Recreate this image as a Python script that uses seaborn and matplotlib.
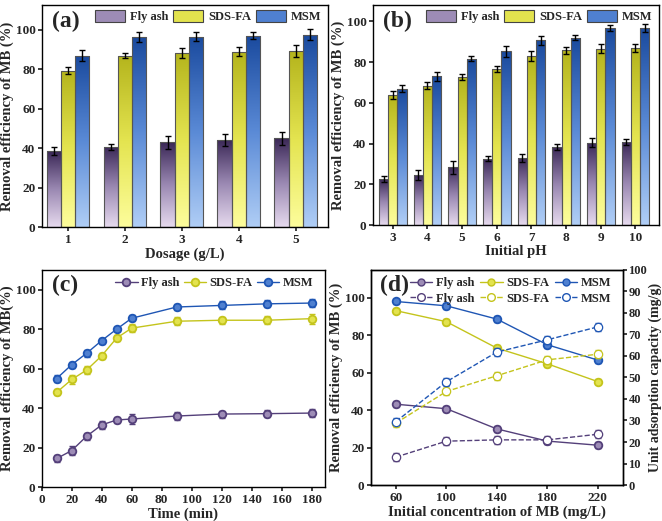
import numpy as np
import pandas as pd
import matplotlib
matplotlib.use("Agg")
import matplotlib.pyplot as plt
import seaborn as sns
from matplotlib.colors import LinearSegmentedColormap
from matplotlib.patches import Patch
from matplotlib.lines import Line2D

# ---------------- data ----------------
series = ["Fly ash", "SDS-FA", "MSM"]

dosage = [1, 2, 3, 4, 5]
a_fly = [38.5, 40.8, 43.0, 44.3, 45.0]
a_sds = [79.2, 87.0, 88.2, 89.0, 89.2]
a_msm = [87.0, 96.2, 96.5, 97.0, 97.5]
a_fly_err = [2.0, 1.5, 3.3, 3.0, 3.3]
a_sds_err = [1.8, 1.2, 2.5, 2.2, 3.0]
a_msm_err = [2.8, 2.5, 2.3, 1.8, 2.8]

ph = [3, 4, 5, 6, 7, 8, 9, 10]
b_fly = [22.5, 24.5, 28.5, 32.5, 33.0, 38.5, 40.5, 41.0]
b_sds = [64.0, 68.5, 72.8, 76.5, 83.2, 85.8, 86.6, 86.8]
b_msm = [67.0, 73.0, 81.8, 85.3, 90.7, 92.0, 96.7, 97.0]
b_fly_err = [1.5, 2.5, 3.2, 1.2, 2.0, 1.5, 2.2, 1.5]
b_sds_err = [2.0, 1.8, 1.6, 1.5, 2.5, 1.6, 2.2, 2.0]
b_msm_err = [1.8, 2.0, 1.2, 2.5, 2.0, 1.3, 1.5, 2.0]

time = [10, 20, 30, 40, 50, 60, 90, 120, 150, 180]
c_fly = [14.5, 18.5, 25.8, 31.5, 34.0, 34.5, 36.0, 37.0, 37.2, 37.5]
c_sds = [48.0, 54.5, 59.3, 66.5, 75.5, 80.5, 84.0, 84.5, 84.5, 85.3]
c_msm = [55.0, 62.0, 67.8, 74.2, 80.0, 85.5, 91.2, 92.0, 92.8, 93.2]
c_fly_err = [2.0, 2.2, 1.8, 2.0, 1.5, 2.5, 2.2, 1.8, 1.8, 2.0]
c_sds_err = [1.5, 2.5, 2.0, 1.5, 1.5, 2.2, 2.0, 1.8, 2.0, 2.5]
c_msm_err = [2.0, 1.5, 1.8, 1.5, 1.2, 1.5, 1.5, 2.0, 1.8, 2.0]

conc = [60, 100, 140, 180, 220]
d_fly = [43.2, 40.8, 30.0, 23.5, 21.3]
d_sds = [93.2, 87.3, 73.2, 64.8, 55.3]
d_msm = [98.1, 95.8, 88.7, 75.0, 66.8]
d_fly_q = [13.0, 20.4, 21.0, 21.0, 23.6]
d_sds_q = [28.8, 43.5, 50.8, 58.2, 60.8]
d_msm_q = [29.5, 48.0, 61.8, 67.5, 73.5]

# ---------------- style ----------------
sns.set_theme(style="ticks")
plt.rcParams["font.family"] = ["Liberation Serif", "DejaVu Serif"]
plt.rcParams["font.weight"] = "bold"
plt.rcParams["axes.labelweight"] = "bold"
plt.rcParams["axes.linewidth"] = 1.0
plt.rcParams["xtick.direction"] = "out"
plt.rcParams["ytick.direction"] = "out"
plt.rcParams["xtick.major.size"] = 3
plt.rcParams["ytick.major.size"] = 3
plt.rcParams["xtick.major.pad"] = 2
plt.rcParams["ytick.major.pad"] = 1.5

line_cols = {"Fly ash": "#54407a", "SDS-FA": "#c4c41c", "MSM": "#1f56b4"}
mid_cols = {"Fly ash": "#9d8cb6", "SDS-FA": "#e3e34e", "MSM": "#4f80d0"}
cmaps = {
    "Fly ash": LinearSegmentedColormap.from_list("fa", ["#e6daee", "#9a88b2", "#3a2756"]),
    "SDS-FA": LinearSegmentedColormap.from_list("sd", ["#fdfd9c", "#e4e450", "#b4b41c"]),
    "MSM": LinearSegmentedColormap.from_list("ms", ["#b0cef6", "#5a8ad6", "#1a4a9e"]),
}

fig = plt.figure(figsize=(6.62, 5.21), dpi=100)
ax_a = fig.add_axes([0.063, 0.564, 0.432, 0.426])
ax_b = fig.add_axes([0.563, 0.568, 0.432, 0.422])
ax_c = fig.add_axes([0.063, 0.065, 0.428, 0.417])
ax_d = fig.add_axes([0.560, 0.069, 0.381, 0.413])

FS_T = 9.5
FS_L = 10.5
FS_LEG = 9
FS_TAG = 17


def style_ax(ax, fs=FS_T):
    for lab in ax.get_xticklabels() + ax.get_yticklabels():
        lab.set_fontweight("bold")
        lab.set_fontsize(fs)
    for s in ax.spines.values():
        s.set_visible(True)
        s.set_color("black")


def bar_panel(ax, cats, vals, errs, width, xlabel, tag, xlim, ylim):
    df = pd.DataFrame({
        "cat": np.tile([str(c) for c in cats], 3),
        "series": np.repeat(series, len(cats)),
        "val": np.concatenate(vals),
    })
    sns.barplot(data=df, x="cat", y="val", hue="series", hue_order=series,
                ax=ax, width=width, errorbar=None, gap=0.0,
                edgecolor="#555555", linewidth=0.8, legend=False)
    grad = np.linspace(0, 1, 256).reshape(-1, 1)
    for s, cont, err in zip(series, ax.containers, errs):
        for bar, e in zip(cont, err):
            x0, y0 = bar.get_x(), bar.get_y()
            w, h = bar.get_width(), bar.get_height()
            im = ax.imshow(grad, extent=(x0, x0 + w, y0, y0 + h), origin="lower",
                           cmap=cmaps[s], aspect="auto", zorder=bar.get_zorder() - 0.1,
                           interpolation="bilinear")
            im.set_clip_path(bar)
            bar.set_facecolor("none")
            ax.errorbar(x0 + w / 2, y0 + h, yerr=e, fmt="none", ecolor="black",
                        elinewidth=1.0, capsize=2.5, capthick=1.0, zorder=5)
    ax.set_xlim(*xlim)
    ax.set_ylim(*ylim)
    ax.set_aspect("auto")
    ax.set_yticks([0, 20, 40, 60, 80, 100])
    ax.set_xlabel(xlabel, fontsize=FS_L, fontweight="bold", labelpad=1)
    ax.set_ylabel("Removal efficiency of MB (%)", fontsize=FS_L, fontweight="bold", labelpad=1)
    handles = [Patch(facecolor=mid_cols[s], edgecolor="#444444", linewidth=0.8) for s in series]
    ax.legend(handles, series, loc="upper right", ncol=3, frameon=False,
              prop={"weight": "bold", "size": FS_LEG}, handlelength=2.4, handleheight=1.0,
              columnspacing=0.4, handletextpad=0.4, borderaxespad=0.1,
              bbox_to_anchor=(1.0, 1.005))
    ax.text(0.035, 0.975, tag, transform=ax.transAxes, fontsize=FS_TAG, fontweight="bold",
            va="top", ha="left")
    style_ax(ax)


bar_panel(ax_a, dosage, [a_fly, a_sds, a_msm], [a_fly_err, a_sds_err, a_msm_err],
          0.75, "Dosage (g/L)", "(a)", (-0.46, 4.56), (0, 112.5))
bar_panel(ax_b, ph, [b_fly, b_sds, b_msm], [b_fly_err, b_sds_err, b_msm_err],
          0.8, "Initial pH", "(b)", (-0.58, 7.67), (0, 108))

# ---------------- (c) ----------------
for s, v, e in zip(series, [c_fly, c_sds, c_msm], [c_fly_err, c_sds_err, c_msm_err]):
    sns.lineplot(x=time, y=v, ax=ax_c, color=line_cols[s], marker="o", markersize=5.5,
                 markeredgecolor=line_cols[s], markerfacecolor=mid_cols[s],
                 markeredgewidth=1.3, linewidth=1.0, label=s, zorder=3)
    ax_c.errorbar(time, v, yerr=e, fmt="none", ecolor=line_cols[s], elinewidth=1.0,
                  capsize=2.2, capthick=1.0, zorder=2)
ax_c.set_xlim(0, 189)
ax_c.set_ylim(0, 110)
ax_c.set_xticks(range(0, 181, 20))
ax_c.set_yticks([0, 20, 40, 60, 80, 100])
ax_c.set_xlabel("Time (min)", fontsize=FS_L, fontweight="bold", labelpad=1)
ax_c.set_ylabel("Removal efficiency of MB(%)", fontsize=FS_L, fontweight="bold", labelpad=1)
ax_c.legend(loc="upper right", ncol=3, frameon=False, prop={"weight": "bold", "size": FS_LEG},
            handlelength=1.8, columnspacing=0.3, handletextpad=0.3, borderaxespad=0.2,
            bbox_to_anchor=(0.985, 1.0))
ax_c.text(0.035, 0.975, "(c)", transform=ax_c.transAxes, fontsize=FS_TAG, fontweight="bold",
          va="top", ha="left")
style_ax(ax_c)

# ---------------- (d) ----------------
ax_d2 = ax_d.twinx()
for s, v in zip(series, [d_fly, d_sds, d_msm]):
    sns.lineplot(x=conc, y=v, ax=ax_d, color=line_cols[s], marker="o", markersize=5.5,
                 markeredgecolor=line_cols[s], markerfacecolor=mid_cols[s],
                 markeredgewidth=1.3, linewidth=1.0, zorder=3, legend=False)
    ax_d.errorbar(conc, v, yerr=1.5, fmt="none", ecolor=line_cols[s], elinewidth=1.0,
                  capsize=2.2, capthick=1.0, zorder=2)
for s, v in zip(series, [d_fly_q, d_sds_q, d_msm_q]):
    sns.lineplot(x=conc, y=v, ax=ax_d2, color=line_cols[s], marker="o", markersize=6,
                 markeredgecolor=line_cols[s], markerfacecolor="white",
                 markeredgewidth=0.9, linewidth=1.0, linestyle="--", dashes=(5, 3),
                 zorder=3, legend=False)
    ax_d2.errorbar(conc, v, yerr=1.8, fmt="none", ecolor=line_cols[s], elinewidth=1.0,
                   capsize=2.2, capthick=1.0, zorder=2)
ax_d.set_xlim(40, 240)
ax_d.set_ylim(0, 115)
ax_d2.set_ylim(0, 100)
ax_d.set_xticks(conc)
ax_d.set_yticks([0, 20, 40, 60, 80, 100])
ax_d2.set_yticks(range(0, 101, 10))
ax_d2.tick_params(axis="y", pad=1)
ax_d.set_xlabel("Initial concentration of MB (mg/L)", fontsize=FS_L, fontweight="bold", labelpad=1)
ax_d.set_ylabel("Removal efficiency of MB (%)", fontsize=FS_L, fontweight="bold", labelpad=1)
ax_d2.set_ylabel("Unit adsorption capacity (mg/g)", fontsize=10, fontweight="bold", labelpad=1)
handles, labels = [], []
for s in series:
    handles.append(Line2D([], [], color=line_cols[s], marker="o", markersize=5,
                          markerfacecolor=mid_cols[s], markeredgecolor=line_cols[s], lw=1.0))
    labels.append(s)
    handles.append(Line2D([], [], color=line_cols[s], marker="o", markersize=5.5,
                          markerfacecolor="white", markeredgecolor=line_cols[s], lw=1.0,
                          linestyle="--", dashes=(4, 2)))
    labels.append(s)
ax_d2.legend(handles, labels, loc="upper right", ncol=3, frameon=False,
             prop={"weight": "bold", "size": FS_LEG}, handlelength=1.8, columnspacing=0.45,
             handletextpad=0.3, borderaxespad=0.2, labelspacing=0.25,
             bbox_to_anchor=(0.985, 1.0))
ax_d.text(0.035, 0.975, "(d)", transform=ax_d.transAxes, fontsize=FS_TAG, fontweight="bold",
          va="top", ha="left")
style_ax(ax_d)
style_ax(ax_d2, 9)

fig.savefig("out.png", dpi=100)
